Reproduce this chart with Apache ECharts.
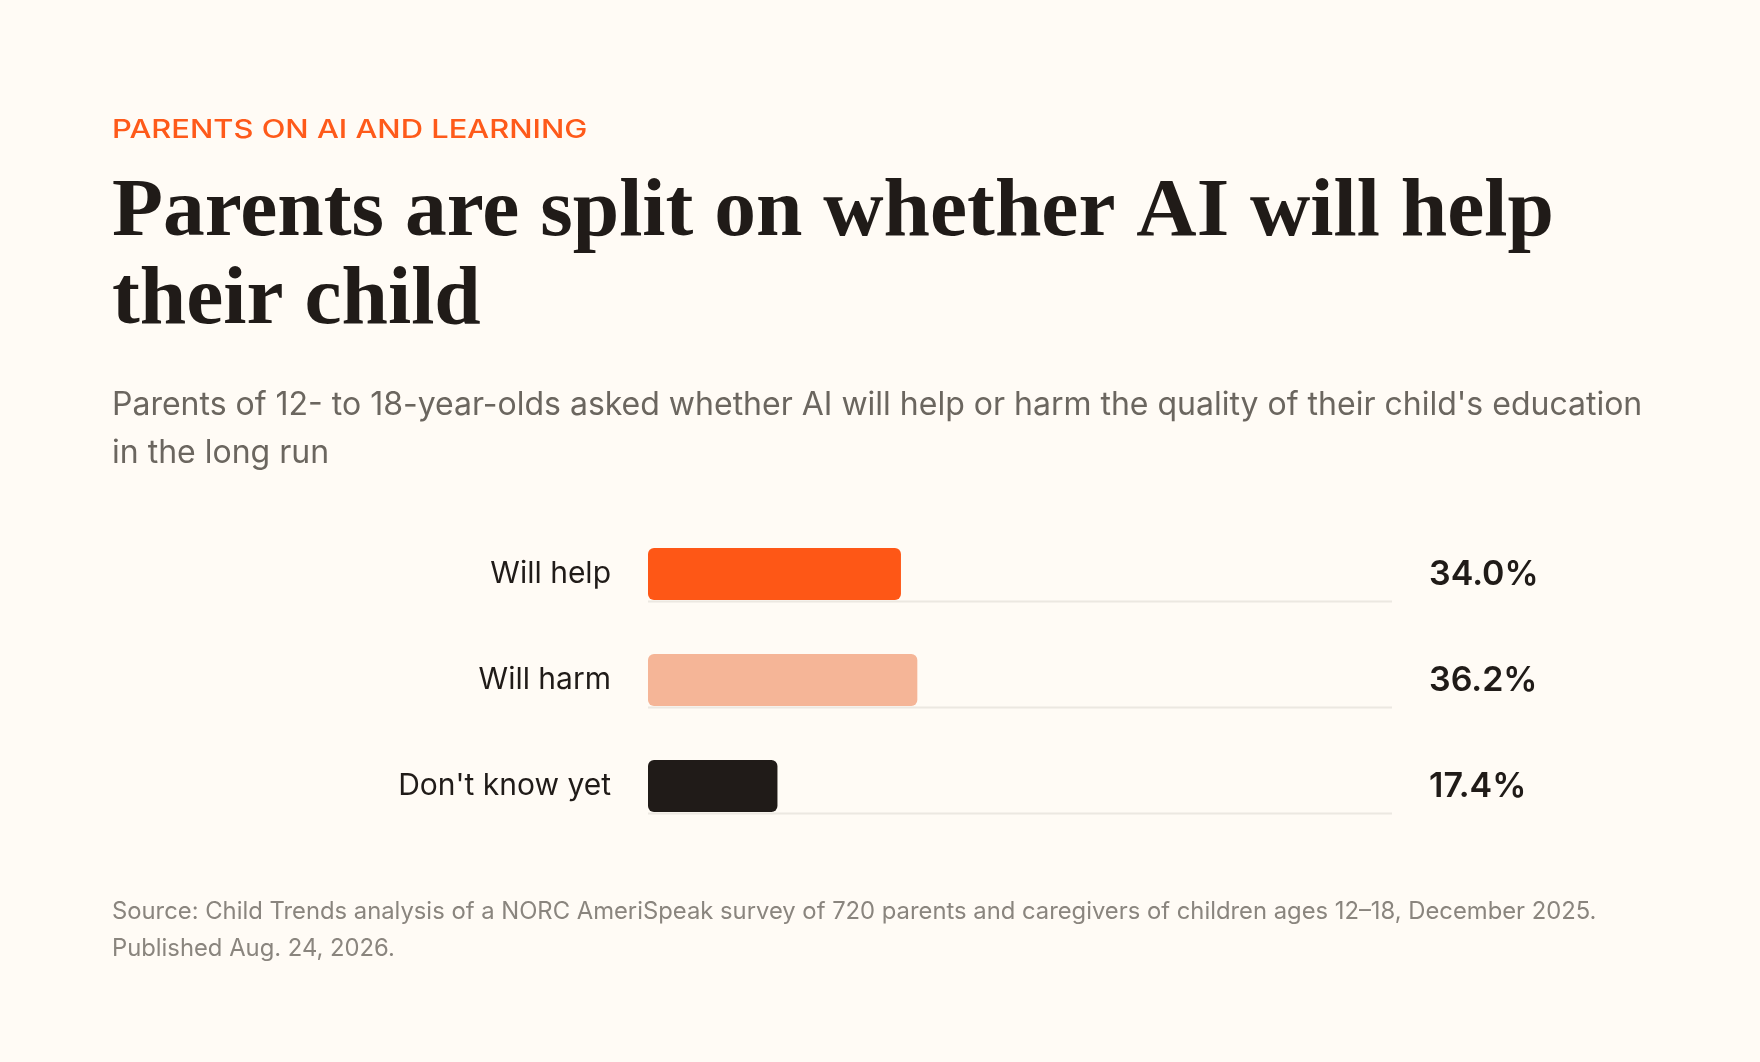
<!DOCTYPE html>
<html>
<head>
<meta charset="utf-8">
<script src="https://cdn.jsdelivr.net/npm/echarts@6/dist/echarts.min.js"></script>
<style>
  html, body { margin: 0; padding: 0; background: #fffbf5; }
  #chart { width: 1760px; height: 1062px; }
</style>
</head>
<body>
<div id="chart"></div>
<script>
// ---- Data ----
const categories = ["Will help", "Will harm", "Don't know yet"];
const values = [34.0, 36.2, 17.4];
const barColors = ["#fe5716", "#f5b597", "#201b18"];
const trackMax = 100;

const eyebrow = "PARENTS ON AI AND LEARNING";
const titleLines = ["Parents are split on whether AI will help", "their child"];
const subtitleLines = [
  "Parents of 12- to 18-year-olds asked whether AI will help or harm the quality of their child's education",
  "in the long run"
];
const sourceLines = [
  "Source: Child Trends analysis of a NORC AmeriSpeak survey of 720 parents and caregivers of children ages 12\u201318, December 2025.",
  "Published Aug. 24, 2026."
];

const SANS = "Inter, 'Noto Sans', sans-serif";
const SERIF = "'Liberation Serif', 'DejaVu Serif', serif";
const INK = "#201b18";
const BAR_W = 52;

const chart = echarts.init(document.getElementById('chart'), null, { renderer: 'canvas' });

const option = {
  backgroundColor: '#fffbf5',
  animation: false,
  grid: { left: 648, width: 744, top: 521, height: 318, containLabel: false },
  xAxis: { type: 'value', min: 0, max: trackMax, show: false },
  yAxis: {
    type: 'category',
    data: categories,
    inverse: true,
    axisLine: { show: false },
    axisTick: { show: false },
    splitLine: { show: false },
    axisLabel: { margin: 37, fontSize: 30, color: INK, fontFamily: SANS, fontWeight: 400 }
  },
  graphic: [
    {
      type: 'text', left: 112, top: 118, scaleX: 1.235,
      style: { text: eyebrow, fontSize: 25, fontWeight: 500, fill: '#fe5a1a', fontFamily: SANS }
    },
    {
      type: 'text', left: 112, top: 169,
      style: { text: titleLines.join('\n'), fontSize: 83.5, lineHeight: 88, fontWeight: 700, fill: INK, fontFamily: SERIF }
    },
    {
      type: 'text', left: 112, top: 381,
      style: { text: subtitleLines.join('\n'), fontSize: 32, lineHeight: 48, fontWeight: 400, fill: '#6b665f', fontFamily: SANS }
    },
    {
      type: 'text', left: 112, top: 893,
      style: { text: sourceLines.join('\n'), fontSize: 23.8, lineHeight: 37, fontWeight: 400, fill: '#8a857e', fontFamily: SANS }
    }
  ],
  series: [
    {
      type: 'custom',
      z: 1,
      silent: true,
      data: categories.map((c, i) => [trackMax, i]),
      renderItem: function (params, api) {
        const i = api.value(1);
        const start = api.coord([0, i]);
        const end = api.coord([api.value(0), i]);
        const y = start[1] + BAR_W / 2 + 1.5;
        return {
          type: 'group',
          children: [
            { type: 'line', shape: { x1: start[0], y1: y, x2: end[0], y2: y }, style: { stroke: '#ece8e1', lineWidth: 2 } },
            { type: 'text', x: end[0] + 37, y: start[1] + 1,
              style: { text: values[i].toFixed(1) + '%', fontSize: 34, fontWeight: 600, fill: INK, fontFamily: SANS,
                       align: 'left', verticalAlign: 'middle' } }
          ]
        };
      }
    },
    {
      type: 'bar',
      z: 2,
      barWidth: BAR_W,
      data: values.map((v, i) => ({ value: v, itemStyle: { color: barColors[i] } })),
      itemStyle: { borderRadius: 6 }
    }
  ]
};
chart.setOption(option);
</script>
</body>
</html>
